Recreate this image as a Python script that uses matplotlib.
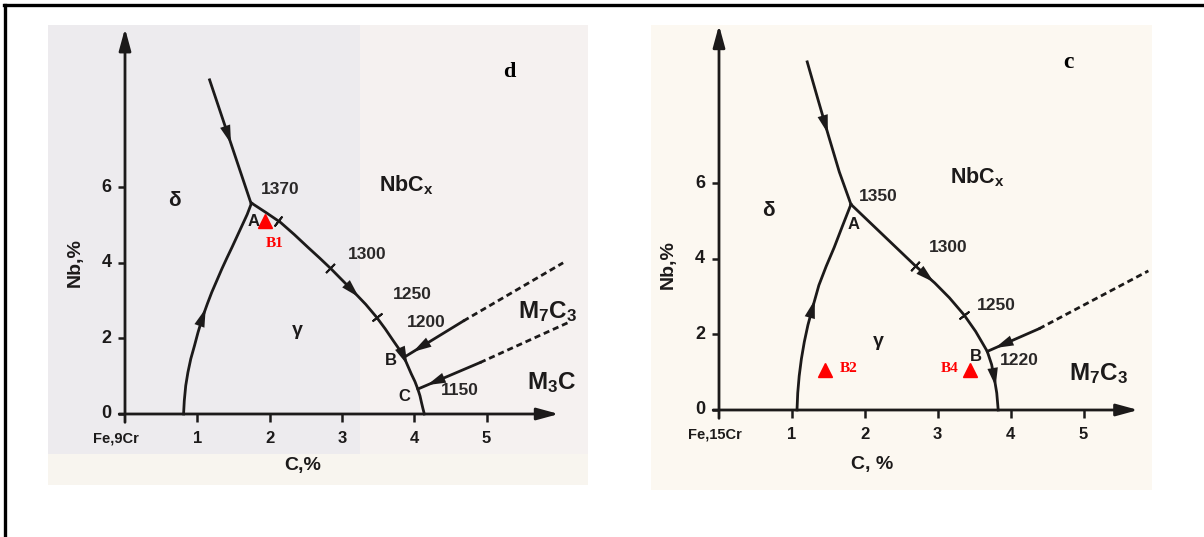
import numpy as np
import matplotlib
matplotlib.use("Agg")
import matplotlib.pyplot as plt
from matplotlib.lines import Line2D

plt.rcParams["mathtext.fontset"] = "custom"
plt.rcParams["mathtext.rm"] = "Liberation Sans:bold"
plt.rcParams["mathtext.it"] = "Liberation Sans:bold"
plt.rcParams["mathtext.bf"] = "Liberation Sans:bold"

INK = "#1c1a1a"
SANS = "Liberation Sans"
SERIF = "Liberation Serif"

# ---------------- Fe-9Cr section (panel "d") ----------------
d_upper_c = [1.17, 1.74]
d_upper_nb = [8.84, 5.59]
d_delta_gamma_c = [0.81, 0.82, 0.84, 0.87, 0.91, 0.96, 1.01, 1.08, 1.14, 1.20,
                   1.27, 1.34, 1.41, 1.48, 1.55, 1.62, 1.69, 1.75]
d_delta_gamma_nb = [0.0, 0.35, 0.75, 1.1, 1.46, 1.8, 2.16, 2.6, 2.92, 3.22,
                    3.53, 3.84, 4.13, 4.41, 4.7, 4.99, 5.28, 5.58]
d_nbc_c = [1.75, 1.95, 2.15, 2.34, 2.53, 2.69, 2.85, 3.01, 3.17, 3.33, 3.48,
           3.60, 3.71, 3.79, 3.86, 3.91, 3.96, 4.01, 4.05, 4.08, 4.10, 4.12, 4.14]
d_nbc_nb = [5.58, 5.33, 5.07, 4.75, 4.41, 4.13, 3.84, 3.53, 3.22, 2.90, 2.56,
            2.25, 1.94, 1.72, 1.50, 1.28, 1.06, 0.86, 0.66, 0.48, 0.31, 0.15, 0.0]
d_m7c3_c = [3.86, 4.68]
d_m7c3_nb = [1.50, 2.46]
d_m7c3_dash_c = [4.68, 6.06]
d_m7c3_dash_nb = [2.46, 4.00]
d_m3c_c = [4.05, 4.91]
d_m3c_nb = [0.66, 1.36]
d_m3c_dash_c = [4.91, 6.12]
d_m3c_dash_nb = [1.36, 2.41]
d_tick_c = [2.12, 2.84, 3.48]
d_tick_nb = [5.11, 3.85, 2.56]
d_temps = ["1370", "1300", "1250", "1200", "1150"]
d_temp_c = [2.15, 3.35, 3.97, 4.17, 4.63]
d_temp_nb = [5.95, 4.23, 3.16, 2.41, 0.61]
d_points = ["A", "B", "C"]
d_point_c = [1.78, 3.68, 3.86]
d_point_nb = [5.09, 1.41, 0.45]
d_sample = ["B1"]
d_sample_c = [1.94]
d_sample_nb = [5.11]

# ---------------- Fe-15Cr section (panel "c") ----------------
c_upper_c = [1.21, 1.36, 1.50, 1.65, 1.81]
c_upper_nb = [9.21, 8.20, 7.27, 6.30, 5.44]
c_delta_gamma_c = [1.07, 1.08, 1.10, 1.13, 1.17, 1.22, 1.29, 1.37, 1.47, 1.58,
                   1.69, 1.81]
c_delta_gamma_nb = [0.0, 0.45, 0.9, 1.35, 1.8, 2.25, 2.75, 3.3, 3.8, 4.3, 4.85,
                    5.44]
c_nbc_c = [1.81, 2.25, 2.69, 2.96, 3.16, 3.36, 3.52, 3.62, 3.68, 3.74, 3.78,
           3.81, 3.83]
c_nbc_nb = [5.44, 4.63, 3.82, 3.36, 2.97, 2.52, 2.08, 1.75, 1.55, 1.20, 0.80,
            0.45, 0.0]
c_m7c3_c = [3.68, 4.39]
c_m7c3_nb = [1.55, 2.15]
c_m7c3_dash_c = [4.39, 5.89]
c_m7c3_dash_nb = [2.15, 3.68]
c_tick_c = [2.69, 3.36]
c_tick_nb = [3.82, 2.52]
c_temps = ["1350", "1300", "1250", "1220"]
c_temp_c = [2.18, 3.14, 3.80, 4.12]
c_temp_nb = [5.66, 4.30, 2.77, 1.32]
c_points = ["A", "B"]
c_point_c = [1.84, 3.52]
c_point_nb = [4.91, 1.41]
c_sample = ["B2", "B4"]
c_sample_c = [1.46, 3.44]
c_sample_nb = [1.05, 1.05]

x_ticks = [1, 2, 3, 4, 5]
y_ticks = [0, 2, 4, 6]

fig = plt.figure(figsize=(12.04, 5.37), dpi=100)
fig.patch.set_facecolor("white")

# outer frame (top and left rules)
fig.add_artist(Line2D([4 / 1204, 1.0], [1 - 5 / 537, 1 - 5 / 537], color="black", lw=2.4))
fig.add_artist(Line2D([5 / 1204, 5 / 1204], [0.0, 1 - 5 / 537], color="black", lw=2.4))


def px_rect(x0, y0, x1, y1):
    return [x0 / 1204, 1 - y1 / 537, (x1 - x0) / 1204, (y1 - y0) / 537]


def make_axes(rect, xlim, ylim, face):
    ax = fig.add_axes(rect)
    ax.set_xlim(*xlim)
    ax.set_ylim(*ylim)
    ax.set_facecolor(face)
    for s in ax.spines.values():
        s.set_visible(False)
    ax.set_xticks([])
    ax.set_yticks([])
    return ax


def arrow_on(ax, cs, ns, i, t=0.5, reverse=False, scale=14):
    """Filled arrowhead on segment i of a polyline, pointing along the line."""
    x0, y0 = cs[i], ns[i]
    x1, y1 = cs[i + 1], ns[i + 1]
    if reverse:
        x0, y0, x1, y1 = x1, y1, x0, y0
    xm, ym = x0 + t * (x1 - x0), y0 + t * (y1 - y0)
    xs, ys = xm - 0.02 * (x1 - x0), ym - 0.02 * (y1 - y0)
    ax.annotate("", xy=(xm, ym), xytext=(xs, ys),
                arrowprops=dict(arrowstyle="-|>,head_length=0.95,head_width=0.27",
                                color=INK, lw=0.01, shrinkA=0, shrinkB=0,
                                mutation_scale=scale))


def curve_ticks(ax, cs, ns, tc, tn):
    fig.canvas.draw()
    for x, y in zip(tc, tn):
        # local direction from the nearest curve points
        k = int(np.argmin(np.hypot(np.array(cs) - x, np.array(ns) - y)))
        k0, k1 = max(k - 1, 0), min(k + 1, len(cs) - 1)
        p0 = ax.transData.transform((cs[k0], ns[k0]))
        p1 = ax.transData.transform((cs[k1], ns[k1]))
        ang = np.degrees(np.arctan2(p1[1] - p0[1], p1[0] - p0[0]))
        ax.plot([x], [y], marker=(2, 2, ang), ms=9, mew=1.4, color=INK)


def draw_axes_frame(ax, xmax, ymax, origin_label, label_x):
    ax.annotate("", xy=(0, ymax), xytext=(0, -0.22),
                arrowprops=dict(arrowstyle="-|>,head_length=1.1,head_width=0.3",
                                color=INK, lw=2.0, shrinkA=0, shrinkB=0, mutation_scale=12))
    ax.annotate("", xy=(xmax, 0), xytext=(-0.08, 0),
                arrowprops=dict(arrowstyle="-|>,head_length=1.1,head_width=0.3",
                                color=INK, lw=2.0, shrinkA=0, shrinkB=0, mutation_scale=12))
    for xt in x_ticks:
        ax.plot([xt, xt], [0, -0.2], color=INK, lw=1.8, solid_capstyle="butt")
        ax.text(xt, -0.66, str(xt), ha="center", va="center", fontsize=12,
                fontweight="bold", family=SANS, color=INK)
    for yt in y_ticks:
        ax.plot([-0.09, 0], [yt, yt], color=INK, lw=1.8, solid_capstyle="butt")
        ax.text(-0.19, yt, str(yt), ha="right", va="center", fontsize=13,
                fontweight="bold", family=SANS, color=INK)
    ax.text(label_x, -0.64, origin_label, ha="center", va="center", fontsize=10.5,
            fontweight="bold", family=SANS, color=INK)


def phase_text(ax, x, y, s, size=13):
    ax.text(x, y, s, ha="center", va="center", fontsize=size, family=SANS,
            fontweight="bold", color=INK)


# ================= left panel =================
axd = make_axes(px_rect(48, 25, 588, 485), ((48 - 125) / 72.3, (588 - 125) / 72.3),
                ((414 - 485) / 37.8, (414 - 25) / 37.8), "#f5f1f0")
# scanned-page tones
axd.axvspan(-1.1, 3.25, color="#edebee", lw=0, zorder=0)
axd.axhspan(-2.0, -1.05, color="#f8f5ef", lw=0, zorder=0)

draw_axes_frame(axd, 6.0, 10.2, "Fe,9Cr", -0.12)
lw_main = 2.0
axd.plot(d_upper_c, d_upper_nb, color=INK, lw=lw_main)
axd.plot(d_delta_gamma_c, d_delta_gamma_nb, color=INK, lw=lw_main)
axd.plot(d_nbc_c, d_nbc_nb, color=INK, lw=lw_main)
axd.plot(d_m7c3_c, d_m7c3_nb, color=INK, lw=lw_main)
axd.plot(d_m7c3_dash_c, d_m7c3_dash_nb, color=INK, lw=lw_main, ls=(0, (2.2, 1.4)))
axd.plot(d_m3c_c, d_m3c_nb, color=INK, lw=lw_main)
axd.plot(d_m3c_dash_c, d_m3c_dash_nb, color=INK, lw=lw_main, ls=(0, (2.2, 1.4)))
curve_ticks(axd, d_nbc_c, d_nbc_nb, d_tick_c, d_tick_nb)

arrow_on(axd, d_upper_c, d_upper_nb, 0, t=0.52)
arrow_on(axd, d_delta_gamma_c, d_delta_gamma_nb, 7, t=0.6)
arrow_on(axd, d_nbc_c, d_nbc_nb, 8, t=0.4)
arrow_on(axd, d_nbc_c, d_nbc_nb, 14, t=0.9)
arrow_on(axd, d_m7c3_c, d_m7c3_nb, 0, t=0.85, reverse=True)
arrow_on(axd, d_m3c_c, d_m3c_nb, 0, t=0.85, reverse=True)

for s, x, y in zip(d_temps, d_temp_c, d_temp_nb):
    axd.text(x, y, s, ha="center", va="center", fontsize=12.5, family=SANS,
             fontweight="bold", color="#2a2828")
for s, x, y in zip(d_points, d_point_c, d_point_nb):
    axd.text(x, y, s, ha="center", va="center", fontsize=12, family=SANS,
             fontweight="bold", color=INK)
phase_text(axd, 3.89, 6.05, r"NbC$_\mathrm{x}$", 15.5)
phase_text(axd, 0.69, 5.64, "δ", 15)
phase_text(axd, 2.38, 2.2, "γ", 14)
phase_text(axd, 5.85, 2.72, r"M$_\mathrm{7}$C$_\mathrm{3}$", 17.5)
phase_text(axd, 5.9, 0.82, r"M$_\mathrm{3}$C", 17.5)
axd.text(-0.69, 4.0, "Nb,%", rotation=90, ha="center", va="center", fontsize=14,
         fontweight="bold", family=SANS, color=INK)
axd.text(2.46, -1.36, "C,%", ha="center", va="center", fontsize=14,
         fontweight="bold", family=SANS, color=INK)
axd.text(5.32, 9.05, "d", ha="center", va="center", fontsize=16, family=SERIF,
         fontweight="bold", color="black")
for s, x, y in zip(d_sample, d_sample_c, d_sample_nb):
    axd.plot([x], [y], marker="^", ms=10, color="#ff0000", mec="#ff0000")
    axd.text(x + 0.13, y - 0.6, s, ha="center", va="center", fontsize=11,
             family=SERIF, fontweight="bold", color="#ff0000")

# ================= right panel =================
axc = make_axes(px_rect(651, 25, 1152, 490), ((651 - 719) / 72.9, (1152 - 719) / 72.9),
                ((410 - 490) / 37.8, (410 - 25) / 37.8), "#fcf8f1")

draw_axes_frame(axc, 5.75, 10.18, "Fe,15Cr", -0.06)
axc.plot(c_upper_c, c_upper_nb, color=INK, lw=lw_main)
axc.plot(c_delta_gamma_c, c_delta_gamma_nb, color=INK, lw=lw_main)
axc.plot(c_nbc_c, c_nbc_nb, color=INK, lw=lw_main)
axc.plot(c_m7c3_c, c_m7c3_nb, color=INK, lw=lw_main)
axc.plot(c_m7c3_dash_c, c_m7c3_dash_nb, color=INK, lw=lw_main, ls=(0, (2.2, 1.4)))
curve_ticks(axc, c_nbc_c, c_nbc_nb, c_tick_c, c_tick_nb)

arrow_on(axc, c_upper_c, c_upper_nb, 1, t=0.95)
arrow_on(axc, c_delta_gamma_c, c_delta_gamma_nb, 6, t=0.3)
arrow_on(axc, c_nbc_c, c_nbc_nb, 2, t=0.95)
arrow_on(axc, c_nbc_c, c_nbc_nb, 10, t=0.5)
arrow_on(axc, c_m7c3_c, c_m7c3_nb, 0, t=0.85, reverse=True)

for s, x, y in zip(c_temps, c_temp_c, c_temp_nb):
    axc.text(x, y, s, ha="center", va="center", fontsize=12.5, family=SANS,
             fontweight="bold", color="#2a2828")
for s, x, y in zip(c_points, c_point_c, c_point_nb):
    axc.text(x, y, s, ha="center", va="center", fontsize=12, family=SANS,
             fontweight="bold", color=INK)
phase_text(axc, 3.55, 6.15, r"NbC$_\mathrm{x}$", 15.5)
phase_text(axc, 0.68, 5.27, "δ", 15)
phase_text(axc, 2.19, 1.8, "γ", 14)
phase_text(axc, 5.2, 0.97, r"M$_\mathrm{7}$C$_\mathrm{3}$", 17.5)
axc.text(-0.70, 3.86, "Nb,%", rotation=90, ha="center", va="center", fontsize=14,
         fontweight="bold", family=SANS, color=INK)
axc.text(2.10, -1.45, "C, %", ha="center", va="center", fontsize=14,
         fontweight="bold", family=SANS, color=INK)
axc.text(4.79, 9.18, "c", ha="center", va="center", fontsize=17, family=SERIF,
         fontweight="bold", color="black")
for s, x, y, dx in zip(c_sample, c_sample_c, c_sample_nb, [0.32, -0.27]):
    axc.plot([x], [y], marker="^", ms=10, color="#ff0000", mec="#ff0000")
    axc.text(x + dx, y + 0.04, s, ha="center", va="center", fontsize=11,
             family=SERIF, fontweight="bold", color="#ff0000")

fig.savefig("out.png", dpi=100, facecolor="white")
